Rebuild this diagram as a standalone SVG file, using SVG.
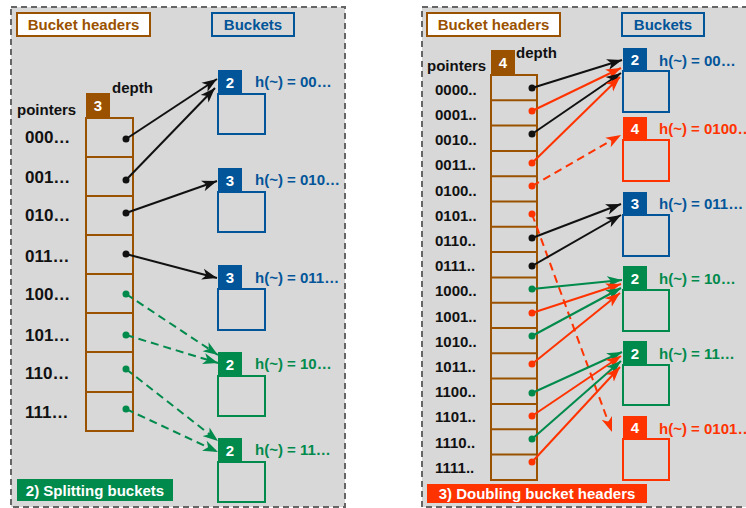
<svg xmlns="http://www.w3.org/2000/svg" width="746" height="508" viewBox="0 0 746 508">
<defs>
<style>
.panel{fill:#d8d8d8;stroke:#666;stroke-width:2;stroke-dasharray:6 4}
.t{font-family:"Liberation Sans",Arial,sans-serif;font-weight:bold}
.f15{font-size:15px}
.f17{font-size:17px}
.brown{fill:#9a5200}
.blue{fill:#035599}
.green{fill:#008a4c}
.red{fill:#ff3300}
.white{fill:#fff}
.blk{fill:#111}
.hdrbox{fill:#fff;stroke:#9a5200;stroke-width:2}
.bkbox{fill:#d8d8d8;stroke:#035599;stroke-width:2}
.col{fill:none;stroke:#9a5200;stroke-width:2}
.bodyB{fill:none;stroke:#035599;stroke-width:2}
.bodyG{fill:none;stroke:#008a4c;stroke-width:2}
.bodyR{fill:none;stroke:#ff3300;stroke-width:2}
.lk{stroke:#111;stroke-width:2;fill:none;marker-end:url(#ak)}
.lr{stroke:#ff3300;stroke-width:2;fill:none;marker-end:url(#ar)}
.lg{stroke:#008a4c;stroke-width:2;fill:none;marker-end:url(#ag)}
.dash{stroke-dasharray:8 5}
</style>
<marker id="ak" markerUnits="userSpaceOnUse" markerWidth="16" markerHeight="12" refX="15" refY="6" orient="auto"><path d="M0,0.5 L15,6 L0,11.5 L4,6 Z" fill="#111"/></marker>
<marker id="ar" markerUnits="userSpaceOnUse" markerWidth="16" markerHeight="12" refX="15" refY="6" orient="auto"><path d="M0,0.5 L15,6 L0,11.5 L4,6 Z" fill="#ff3300"/></marker>
<marker id="ag" markerUnits="userSpaceOnUse" markerWidth="16" markerHeight="12" refX="15" refY="6" orient="auto"><path d="M0,0.5 L15,6 L0,11.5 L4,6 Z" fill="#008a4c"/></marker>
</defs>

<!-- panels -->
<rect class="panel" x="11" y="7" width="334" height="500"/>
<rect class="panel" x="422" y="7" width="340" height="500"/>

<!-- LEFT PANEL -->
<g id="left-title-headers">
<rect class="hdrbox" x="17" y="13" width="133" height="23"/>
<text class="t f15 brown" x="83.5" y="30" text-anchor="middle">Bucket headers</text>
</g>
<g id="left-title-buckets">
<rect class="bkbox" x="212" y="13" width="82" height="23"/>
<text class="t f15 blue" x="253" y="30" text-anchor="middle">Buckets</text>
</g>

<g id="left-headers">
<text class="t f15 blk" x="17" y="115">pointers</text>
<text class="t f15 blk" x="112" y="93">depth</text>
<rect class="brown" x="86" y="93" width="24" height="25"/>
<text class="t f15 white" x="98" y="111" text-anchor="middle">3</text>
<rect class="col" x="86" y="118" width="47" height="313"/>
<path class="col" d="M86,157H133M86,196H133M86,235H133M86,274H133M86,313H133M86,352H133M86,392H133"/>
<g class="t f17 blk">
<text x="25" y="143">000…</text>
<text x="25" y="183">001…</text>
<text x="25" y="221">010…</text>
<text x="25" y="262">011…</text>
<text x="25" y="300">100…</text>
<text x="25" y="341">101…</text>
<text x="25" y="379">110…</text>
<text x="25" y="418">111…</text>
</g>
<g class="blk">
<circle cx="126" cy="139" r="3.5"/>
<circle cx="126" cy="180" r="3.5"/>
<circle cx="126" cy="213" r="3.5"/>
<circle cx="126" cy="254" r="3.5"/>
</g>
<g class="green">
<circle cx="126" cy="294" r="3.5"/>
<circle cx="126" cy="335" r="3.5"/>
<circle cx="126" cy="369" r="3.5"/>
<circle cx="126" cy="409" r="3.5"/>
</g>
</g>

<g id="left-bucket-00">
<rect class="blue" x="218" y="70" width="24" height="24"/>
<text class="t f15 white" x="230" y="88" text-anchor="middle">2</text>
<rect class="bodyB" x="218" y="94" width="47" height="40"/>
<text class="t f15 blue" x="255" y="87">h(~) = 00…</text>
</g>
<g id="left-bucket-010">
<rect class="blue" x="218" y="168" width="24" height="24"/>
<text class="t f15 white" x="230" y="186" text-anchor="middle">3</text>
<rect class="bodyB" x="218" y="192" width="47" height="40"/>
<text class="t f15 blue" x="255" y="185">h(~) = 010…</text>
</g>
<g id="left-bucket-011">
<rect class="blue" x="218" y="265" width="24" height="24"/>
<text class="t f15 white" x="230" y="283" text-anchor="middle">3</text>
<rect class="bodyB" x="218" y="289" width="47" height="41"/>
<text class="t f15 blue" x="255" y="283">h(~) = 011…</text>
</g>
<g id="left-bucket-10">
<rect class="green" x="218" y="352" width="24" height="24"/>
<text class="t f15 white" x="230" y="370" text-anchor="middle">2</text>
<rect class="bodyG" x="218" y="376" width="47" height="40"/>
<text class="t f15 green" x="255" y="369">h(~) = 10…</text>
</g>
<g id="left-bucket-11">
<rect class="green" x="218" y="438" width="24" height="24"/>
<text class="t f15 white" x="230" y="456" text-anchor="middle">2</text>
<rect class="bodyG" x="218" y="462" width="47" height="40"/>
<text class="t f15 green" x="255" y="455">h(~) = 11…</text>
</g>

<g id="left-caption">
<rect class="green" x="17" y="479" width="156" height="22"/>
<text class="t f15 white" x="95" y="496" text-anchor="middle">2) Splitting buckets</text>
</g>

<!-- RIGHT PANEL -->
<g id="right-title-headers">
<rect class="hdrbox" x="427" y="13" width="133" height="23"/>
<text class="t f15 brown" x="493.5" y="30" text-anchor="middle">Bucket headers</text>
</g>
<g id="right-title-buckets">
<rect class="bkbox" x="622" y="13" width="82" height="23"/>
<text class="t f15 blue" x="663" y="30" text-anchor="middle">Buckets</text>
</g>

<g id="right-headers">
<text class="t f15 blk" x="427" y="71">pointers</text>
<text class="t f15 blk" x="516" y="58">depth</text>
<rect class="brown" x="491" y="50" width="24" height="25"/>
<text class="t f15 white" x="503" y="68" text-anchor="middle">4</text>
<rect class="col" x="491" y="75" width="46" height="405"/>
<path class="col" d="M491,100.3H537M491,125.6H537M491,150.9H537M491,176.2H537M491,201.5H537M491,226.8H537M491,252.1H537M491,277.4H537M491,302.7H537M491,328H537M491,353.3H537M491,378.6H537M491,403.9H537M491,429.2H537M491,454.5H537"/>
<g class="t f15 blk">
<text x="435" y="94.5">0000..</text>
<text x="435" y="119.5">0001..</text>
<text x="435" y="145">0010..</text>
<text x="435" y="170">0011..</text>
<text x="435" y="195.5">0100..</text>
<text x="435" y="220.5">0101..</text>
<text x="435" y="245.5">0110..</text>
<text x="435" y="271">0111..</text>
<text x="435" y="296">1000..</text>
<text x="435" y="321.5">1001..</text>
<text x="435" y="346.5">1010..</text>
<text x="435" y="372">1011..</text>
<text x="435" y="397">1100..</text>
<text x="435" y="422">1101..</text>
<text x="435" y="447.5">1110..</text>
<text x="435" y="472.5">1111..</text>
</g>
<g class="blk">
<circle cx="532" cy="88" r="3.5"/>
<circle cx="532" cy="134" r="3.5"/>
<circle cx="532" cy="238" r="3.5"/>
<circle cx="532" cy="266" r="3.5"/>
</g>
<g class="red">
<circle cx="532" cy="111" r="3.5"/>
<circle cx="532" cy="163" r="3.5"/>
<circle cx="532" cy="186" r="3.5"/>
<circle cx="532" cy="214" r="3.5"/>
<circle cx="532" cy="313" r="3.5"/>
<circle cx="532" cy="364" r="3.5"/>
<circle cx="532" cy="416" r="3.5"/>
<circle cx="532" cy="462" r="3.5"/>
</g>
<g class="green">
<circle cx="532" cy="289" r="3.5"/>
<circle cx="532" cy="336" r="3.5"/>
<circle cx="532" cy="393" r="3.5"/>
<circle cx="532" cy="439" r="3.5"/>
</g>
</g>

<g id="right-bucket-00">
<rect class="blue" x="623" y="48" width="24" height="23"/>
<text class="t f15 white" x="635" y="65" text-anchor="middle">2</text>
<rect class="bodyB" x="623" y="71" width="46" height="41"/>
<text class="t f15 blue" x="659" y="65.5">h(~) = 00…</text>
</g>
<g id="right-bucket-0100">
<rect class="red" x="623" y="117" width="24" height="23"/>
<text class="t f15 white" x="635" y="134" text-anchor="middle">4</text>
<rect class="bodyR" x="623" y="140" width="46" height="41"/>
<text class="t f15 red" x="659" y="133.5">h(~) = 0100…</text>
</g>
<g id="right-bucket-011">
<rect class="blue" x="623" y="192" width="24" height="23"/>
<text class="t f15 white" x="635" y="209" text-anchor="middle">3</text>
<rect class="bodyB" x="623" y="215" width="46" height="41"/>
<text class="t f15 blue" x="659" y="208.5">h(~) = 011…</text>
</g>
<g id="right-bucket-10">
<rect class="green" x="623" y="266" width="24" height="24"/>
<text class="t f15 white" x="635" y="284" text-anchor="middle">2</text>
<rect class="bodyG" x="623" y="290" width="46" height="41"/>
<text class="t f15 green" x="659" y="283.5">h(~) = 10…</text>
</g>
<g id="right-bucket-11">
<rect class="green" x="623" y="341" width="24" height="24"/>
<text class="t f15 white" x="635" y="359" text-anchor="middle">2</text>
<rect class="bodyG" x="623" y="365" width="46" height="40"/>
<text class="t f15 green" x="659" y="358.5">h(~) = 11…</text>
</g>
<g id="right-bucket-0101">
<rect class="red" x="623" y="416" width="24" height="23"/>
<text class="t f15 white" x="635" y="433" text-anchor="middle">4</text>
<rect class="bodyR" x="623" y="439" width="46" height="41"/>
<text class="t f15 red" x="659" y="433.5">h(~) = 0101…</text>
</g>

<g id="right-caption">
<rect class="red" x="427" y="484" width="220" height="19"/>
<text class="t f15 white" x="537" y="499" text-anchor="middle">3) Doubling bucket headers</text>
</g>

<!-- CONNECTORS -->
<g id="connectors">
<path class="lk" d="M126,139L217,79"/>
<path class="lk" d="M126,180L215,88"/>
<path class="lk" d="M126,213L217,181"/>
<path class="lk" d="M126,254L217,278"/>
<path class="lg dash" d="M126,294L218,355"/>
<path class="lg dash" d="M126,335L218,363"/>
<path class="lg dash" d="M126,369L218,441"/>
<path class="lg dash" d="M126,409L218,452"/>

<path class="lk" d="M532,88L622,60"/>
<path class="lr" d="M532,111L621,68"/>
<path class="lk" d="M532,134L621,73"/>
<path class="lr" d="M532,163L620,77"/>
<path class="lr dash" d="M532,186L621,135"/>
<path class="lr dash" d="M532,214L612,432"/>
<path class="lk" d="M532,238L621,204"/>
<path class="lk" d="M532,266L621,215"/>
<path class="lg" d="M532,289L622,280"/>
<path class="lr" d="M532,313L621,284"/>
<path class="lg" d="M532,336L621,288"/>
<path class="lr" d="M532,364L620,293"/>
<path class="lg" d="M532,393L622,352"/>
<path class="lr" d="M532,416L621,356"/>
<path class="lg" d="M532,439L621,361"/>
<path class="lr" d="M532,462L620,367"/>
</g>
</svg>
